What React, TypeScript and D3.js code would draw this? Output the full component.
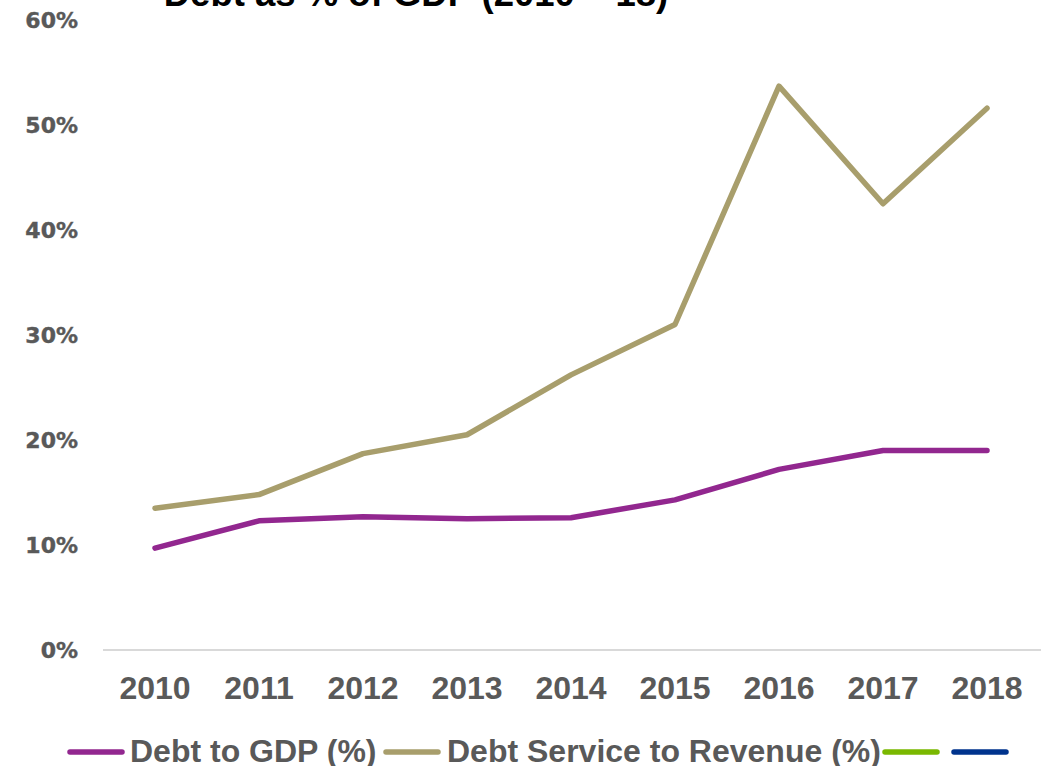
import React from "react";
import * as d3 from "d3";

const years = ["2010", "2011", "2012", "2013", "2014", "2015", "2016", "2017", "2018"];
const debtToGdp = [0.097, 0.123, 0.127, 0.125, 0.126, 0.143, 0.172, 0.19, 0.19];
const debtServiceToRevenue = [0.135, 0.148, 0.187, 0.205, 0.262, 0.31, 0.537, 0.425, 0.516];
const yTicks = [0, 0.1, 0.2, 0.3, 0.4, 0.5, 0.6];
const legendItems = [
  { label: "Debt to GDP (%)", color: "#92278F" },
  { label: "Debt Service to Revenue (%)", color: "#A89E6C" },
  { label: "", color: "#7AB800" },
  { label: "", color: "#00338D" },
];
const title = "Debt as % of GDP (2010 – 18)";

const W = 1041;
const H = 766;

export default function App() {
  const x = d3.scaleBand<string>().domain(years).range([103, 1039]);
  const y = d3.scaleLinear().domain([0, 0.6]).range([650, 20]);
  const cx = (d: string) => (x(d) as number) + x.bandwidth() / 2;
  const line = d3
    .line<number>()
    .x((_, i) => cx(years[i]))
    .y((v) => y(v));

  const fmt = d3.format(".0%");

  const symW = 56;
  const legendFont = "'Liberation Sans', Arial, sans-serif";
  const legendPositions = [
    { sx: 70, tx: 130 },
    { sx: 386, tx: 447 },
    { sx: 885, tx: 0 },
    { sx: 954, tx: 0 },
  ];

  return (
    <svg
      width={W}
      height={H}
      style={{ position: "absolute", left: 0, top: 0, background: "#fff" }}
    >
      <text
        x={416}
        y={6}
        textAnchor="middle"
        fontFamily="'Liberation Sans', Arial, sans-serif"
        fontWeight="bold"
        fontSize={36.5}
        fill="#000"
      >
        {title}
      </text>

      <line x1={103} x2={1041} y1={y(0)} y2={y(0)} stroke="#D9D9D9" strokeWidth={2} />

      {yTicks.map((t) => (
        <text
          key={t}
          x={78}
          y={y(t)}
          dy="0.36em"
          textAnchor="end"
          fontFamily="'DejaVu Sans', Verdana, sans-serif"
          fontWeight="bold"
          fontSize={22}
          fill="#595959"
          stroke="#595959"
          strokeWidth={0.4}
        >
          {fmt(t)}
        </text>
      ))}

      {years.map((yr) => (
        <text
          key={yr}
          x={cx(yr)}
          y={699}
          textAnchor="middle"
          fontFamily="'Liberation Sans', Arial, sans-serif"
          fontWeight="bold"
          fontSize={32}
          fill="#595959"
        >
          {yr}
        </text>
      ))}

      <path
        d={line(debtServiceToRevenue) || ""}
        fill="none"
        stroke={legendItems[1].color}
        strokeWidth={5.5}
        strokeLinecap="round"
        strokeLinejoin="round"
      />
      <path
        d={line(debtToGdp) || ""}
        fill="none"
        stroke={legendItems[0].color}
        strokeWidth={5.5}
        strokeLinecap="round"
        strokeLinejoin="round"
      />

      {legendItems.map((it, i) => (
        <g key={i}>
          <line
            x1={legendPositions[i].sx}
            x2={legendPositions[i].sx + symW - 4}
            y1={752}
            y2={752}
            stroke={it.color}
            strokeWidth={5.5}
            strokeLinecap="round"
          />
          {it.label && (
            <text
              x={legendPositions[i].tx}
              y={762}
              fontFamily={legendFont}
              fontWeight="bold"
              fontSize={32}
              fill="#595959"
            >
              {it.label}
            </text>
          )}
        </g>
      ))}
    </svg>
  );
}
